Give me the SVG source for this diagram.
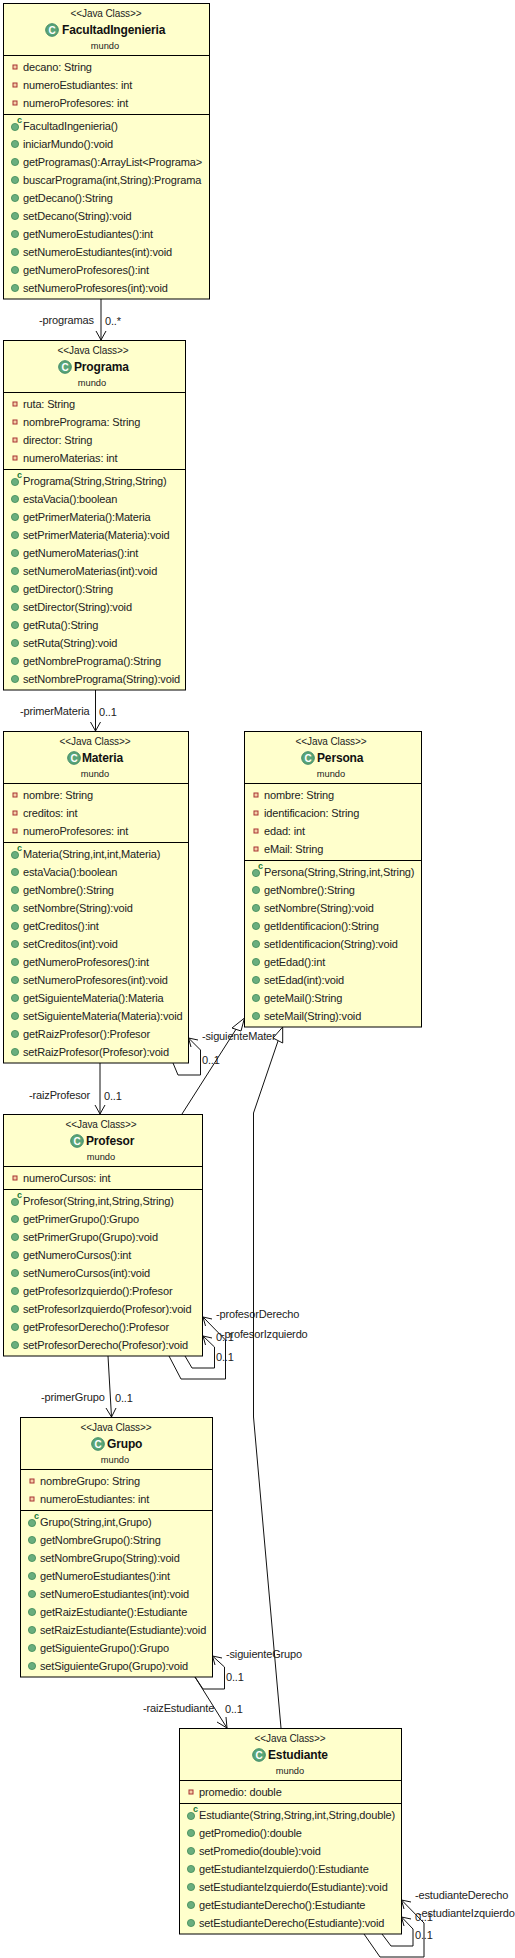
<svg xmlns="http://www.w3.org/2000/svg" xmlns:xlink="http://www.w3.org/1999/xlink" width="515" height="1958" viewBox="0 0 515 1958">
<style>
text{font-family:"Liberation Sans",Arial,sans-serif;font-size:11px;letter-spacing:-0.15px;fill:#222;dominant-baseline:central}
.st{font-size:10px;letter-spacing:-0.1px;text-anchor:middle}
.nm{font-size:12px;font-weight:bold;fill:#111}
.pk{font-size:9.300px;letter-spacing:0;text-anchor:middle}
.ic{font-size:10px;letter-spacing:0;font-weight:bold;fill:#fff;text-anchor:middle}
.cc{font-size:9px;letter-spacing:0;font-weight:bold;fill:#1a7a3a}
.box{fill:#ffffcc;stroke:#000;stroke-width:1}
.sep{stroke:#000;stroke-width:1}
.ln{fill:none;stroke:#111;stroke-width:1}
.ah{fill:none;stroke:#111;stroke-width:1}
.tri{fill:#fff;stroke:#111;stroke-width:1}
</style>
<defs>
<g id="pv"><rect x="-2" y="-2" width="4" height="4" fill="#f3d0a8" stroke="#a83232" stroke-width="1"/></g>
<g id="pb"><circle r="3.600" fill="#6aae7e" stroke="#3f8a58" stroke-width="0.800"/></g>
<g id="cl"><circle r="6.300" fill="#5aa578" stroke="#3f8a68" stroke-width="1"/></g>
</defs>
<g id="connectors">
<line class="ln" x1="101" y1="299" x2="101" y2="340"/><path class="ah" d="M96 331L101 340L106 331"/>
<line class="ln" x1="95.500" y1="690" x2="95.500" y2="731"/><path class="ah" d="M90.500 722L95.500 731L100.500 722"/>
<line class="ln" x1="100" y1="1063" x2="100" y2="1114"/><path class="ah" d="M95 1105L100 1114L105 1105"/>
<path class="ln" d="M173 1063L178 1075H200.500V1050L188.500 1038"/><path class="ah" d="M198 1040L188.500 1038L191 1047"/>
<line class="ln" x1="108" y1="1356" x2="111.500" y2="1417"/><path class="ah" d="M106 1408L111.500 1417L116 1408"/>
<path class="ln" d="M185 1356L192 1368H214.500V1347L203 1336"/><path class="ah" d="M212 1338L203 1336L205.500 1345"/>
<path class="ln" d="M169 1356L181 1379H225.500V1340L203 1317"/><path class="ah" d="M212 1319L203 1317L205.500 1326"/>
<path class="ln" d="M195 1677L203 1689H224.500V1667L212.500 1656"/><path class="ah" d="M222 1658L212.500 1656L215 1665"/>
<line class="ln" x1="195" y1="1677" x2="227" y2="1728"/><path class="ah" d="M217 1722L227 1728L226 1717"/>
<path class="ln" d="M382 1934L391 1946H413V1929L401.500 1917"/><path class="ah" d="M411 1919L401.500 1917L404 1926"/>
<path class="ln" d="M364 1934L380 1957H424V1923L401.500 1900"/><path class="ah" d="M411 1902L401.500 1900L404 1909"/>
<text x="39" y="320">-programas</text><text x="105" y="321">0..*</text>
<text x="20" y="711">-primerMateria</text><text x="99" y="712">0..1</text>
<text x="29" y="1095">-raizProfesor</text><text x="104" y="1096">0..1</text>
<text x="202" y="1036">-siguienteMater</text><text x="202" y="1060">0..1</text>
<text x="41" y="1397">-primerGrupo</text><text x="115" y="1398">0..1</text>
<text x="216" y="1314">-profesorDerecho</text><text x="216" y="1337">0..1</text>
<text x="221" y="1334">-profesorIzquierdo</text><text x="216" y="1357">0..1</text>
<text x="226" y="1654">-siguienteGrupo</text><text x="226" y="1677">0..1</text>
<text x="143" y="1708">-raizEstudiante</text><text x="225" y="1709">0..1</text>
<text x="415" y="1895">-estudianteDerecho</text><text x="415" y="1917">0..1</text>
<text x="418" y="1913">-estudianteIzquierdo</text><text x="415" y="1935">0..1</text>
<path class="ln" d="M182 1114L240 1023"/><path class="tri" d="M244.500 1018L232 1028L241 1031Z"/>
<path class="ln" d="M281 1728L253.500 1417V1113L278 1041"/><path class="tri" d="M282.700 1027L273 1038L282.700 1043Z"/>
</g>
<g id="FacultadIngenieria">
<rect class="box" x="3.500" y="3.500" width="206" height="295.500"/>
<line class="sep" x1="3.500" y1="55.500" x2="209.500" y2="55.500"/><line class="sep" x1="3.500" y1="114.500" x2="209.500" y2="114.500"/>
<text class="st" x="106" y="13">&lt;&lt;Java Class&gt;&gt;</text>
<use href="#cl" x="52" y="30"/><text class="ic" x="52" y="30">C</text><text class="nm" x="62" y="30">FacultadIngenieria</text>
<text class="pk" x="105" y="46">mundo</text>
<use href="#pv" x="15" y="67"/><text x="23" y="67">decano: String</text>
<use href="#pv" x="15" y="85"/><text x="23" y="85">numeroEstudiantes: int</text>
<use href="#pv" x="15" y="103"/><text x="23" y="103">numeroProfesores: int</text>
<use href="#pb" x="15" y="127"/><text class="cc" x="17" y="120">c</text><text x="23" y="126">FacultadIngenieria()</text>
<use href="#pb" x="15" y="144"/><text x="23" y="144">iniciarMundo():void</text>
<use href="#pb" x="15" y="162"/><text x="23" y="162">getProgramas():ArrayList&lt;Programa&gt;</text>
<use href="#pb" x="15" y="180"/><text x="23" y="180">buscarPrograma(int,String):Programa</text>
<use href="#pb" x="15" y="198"/><text x="23" y="198">getDecano():String</text>
<use href="#pb" x="15" y="216"/><text x="23" y="216">setDecano(String):void</text>
<use href="#pb" x="15" y="234"/><text x="23" y="234">getNumeroEstudiantes():int</text>
<use href="#pb" x="15" y="252"/><text x="23" y="252">setNumeroEstudiantes(int):void</text>
<use href="#pb" x="15" y="270"/><text x="23" y="270">getNumeroProfesores():int</text>
<use href="#pb" x="15" y="288"/><text x="23" y="288">setNumeroProfesores(int):void</text>
</g>
<g id="Programa">
<rect class="box" x="3.500" y="340.500" width="182" height="349.500"/>
<line class="sep" x1="3.500" y1="392.500" x2="185.500" y2="392.500"/><line class="sep" x1="3.500" y1="469.500" x2="185.500" y2="469.500"/>
<text class="st" x="93" y="350">&lt;&lt;Java Class&gt;&gt;</text>
<use href="#cl" x="65" y="367"/><text class="ic" x="65" y="367">C</text><text class="nm" x="74" y="367">Programa</text>
<text class="pk" x="92" y="383">mundo</text>
<use href="#pv" x="15" y="404"/><text x="23" y="404">ruta: String</text>
<use href="#pv" x="15" y="422"/><text x="23" y="422">nombrePrograma: String</text>
<use href="#pv" x="15" y="440"/><text x="23" y="440">director: String</text>
<use href="#pv" x="15" y="458"/><text x="23" y="458">numeroMaterias: int</text>
<use href="#pb" x="15" y="482"/><text class="cc" x="17" y="475">c</text><text x="23" y="481">Programa(String,String,String)</text>
<use href="#pb" x="15" y="499"/><text x="23" y="499">estaVacia():boolean</text>
<use href="#pb" x="15" y="517"/><text x="23" y="517">getPrimerMateria():Materia</text>
<use href="#pb" x="15" y="535"/><text x="23" y="535">setPrimerMateria(Materia):void</text>
<use href="#pb" x="15" y="553"/><text x="23" y="553">getNumeroMaterias():int</text>
<use href="#pb" x="15" y="571"/><text x="23" y="571">setNumeroMaterias(int):void</text>
<use href="#pb" x="15" y="589"/><text x="23" y="589">getDirector():String</text>
<use href="#pb" x="15" y="607"/><text x="23" y="607">setDirector(String):void</text>
<use href="#pb" x="15" y="625"/><text x="23" y="625">getRuta():String</text>
<use href="#pb" x="15" y="643"/><text x="23" y="643">setRuta(String):void</text>
<use href="#pb" x="15" y="661"/><text x="23" y="661">getNombrePrograma():String</text>
<use href="#pb" x="15" y="679"/><text x="23" y="679">setNombrePrograma(String):void</text>
</g>
<g id="Materia">
<rect class="box" x="3.500" y="731.500" width="185" height="331.500"/>
<line class="sep" x1="3.500" y1="783.500" x2="188.500" y2="783.500"/><line class="sep" x1="3.500" y1="842.500" x2="188.500" y2="842.500"/>
<text class="st" x="95" y="741">&lt;&lt;Java Class&gt;&gt;</text>
<use href="#cl" x="74" y="758"/><text class="ic" x="74" y="758">C</text><text class="nm" x="82" y="758">Materia</text>
<text class="pk" x="95" y="774">mundo</text>
<use href="#pv" x="15" y="795"/><text x="23" y="795">nombre: String</text>
<use href="#pv" x="15" y="813"/><text x="23" y="813">creditos: int</text>
<use href="#pv" x="15" y="831"/><text x="23" y="831">numeroProfesores: int</text>
<use href="#pb" x="15" y="855"/><text class="cc" x="17" y="848">c</text><text x="23" y="854">Materia(String,int,int,Materia)</text>
<use href="#pb" x="15" y="872"/><text x="23" y="872">estaVacia():boolean</text>
<use href="#pb" x="15" y="890"/><text x="23" y="890">getNombre():String</text>
<use href="#pb" x="15" y="908"/><text x="23" y="908">setNombre(String):void</text>
<use href="#pb" x="15" y="926"/><text x="23" y="926">getCreditos():int</text>
<use href="#pb" x="15" y="944"/><text x="23" y="944">setCreditos(int):void</text>
<use href="#pb" x="15" y="962"/><text x="23" y="962">getNumeroProfesores():int</text>
<use href="#pb" x="15" y="980"/><text x="23" y="980">setNumeroProfesores(int):void</text>
<use href="#pb" x="15" y="998"/><text x="23" y="998">getSiguienteMateria():Materia</text>
<use href="#pb" x="15" y="1016"/><text x="23" y="1016">setSiguienteMateria(Materia):void</text>
<use href="#pb" x="15" y="1034"/><text x="23" y="1034">getRaizProfesor():Profesor</text>
<use href="#pb" x="15" y="1052"/><text x="23" y="1052">setRaizProfesor(Profesor):void</text>
</g>
<g id="Persona">
<rect class="box" x="244.500" y="731.500" width="177" height="295.500"/>
<line class="sep" x1="244.500" y1="783.500" x2="421.500" y2="783.500"/><line class="sep" x1="244.500" y1="860.500" x2="421.500" y2="860.500"/>
<text class="st" x="331" y="741">&lt;&lt;Java Class&gt;&gt;</text>
<use href="#cl" x="308" y="758"/><text class="ic" x="308" y="758">C</text><text class="nm" x="317" y="758">Persona</text>
<text class="pk" x="331" y="774">mundo</text>
<use href="#pv" x="256" y="795"/><text x="264" y="795">nombre: String</text>
<use href="#pv" x="256" y="813"/><text x="264" y="813">identificacion: String</text>
<use href="#pv" x="256" y="831"/><text x="264" y="831">edad: int</text>
<use href="#pv" x="256" y="849"/><text x="264" y="849">eMail: String</text>
<use href="#pb" x="256" y="873"/><text class="cc" x="258" y="866">c</text><text x="264" y="872">Persona(String,String,int,String)</text>
<use href="#pb" x="256" y="890"/><text x="264" y="890">getNombre():String</text>
<use href="#pb" x="256" y="908"/><text x="264" y="908">setNombre(String):void</text>
<use href="#pb" x="256" y="926"/><text x="264" y="926">getIdentificacion():String</text>
<use href="#pb" x="256" y="944"/><text x="264" y="944">setIdentificacion(String):void</text>
<use href="#pb" x="256" y="962"/><text x="264" y="962">getEdad():int</text>
<use href="#pb" x="256" y="980"/><text x="264" y="980">setEdad(int):void</text>
<use href="#pb" x="256" y="998"/><text x="264" y="998">geteMail():String</text>
<use href="#pb" x="256" y="1016"/><text x="264" y="1016">seteMail(String):void</text>
</g>
<g id="Profesor">
<rect class="box" x="3.500" y="1114.500" width="199" height="241.500"/>
<line class="sep" x1="3.500" y1="1166.500" x2="202.500" y2="1166.500"/><line class="sep" x1="3.500" y1="1189.500" x2="202.500" y2="1189.500"/>
<text class="st" x="101" y="1124">&lt;&lt;Java Class&gt;&gt;</text>
<use href="#cl" x="77" y="1141"/><text class="ic" x="77" y="1141">C</text><text class="nm" x="86" y="1141">Profesor</text>
<text class="pk" x="101" y="1157">mundo</text>
<use href="#pv" x="15" y="1178"/><text x="23" y="1178">numeroCursos: int</text>
<use href="#pb" x="15" y="1202"/><text class="cc" x="17" y="1195">c</text><text x="23" y="1201">Profesor(String,int,String,String)</text>
<use href="#pb" x="15" y="1219"/><text x="23" y="1219">getPrimerGrupo():Grupo</text>
<use href="#pb" x="15" y="1237"/><text x="23" y="1237">setPrimerGrupo(Grupo):void</text>
<use href="#pb" x="15" y="1255"/><text x="23" y="1255">getNumeroCursos():int</text>
<use href="#pb" x="15" y="1273"/><text x="23" y="1273">setNumeroCursos(int):void</text>
<use href="#pb" x="15" y="1291"/><text x="23" y="1291">getProfesorIzquierdo():Profesor</text>
<use href="#pb" x="15" y="1309"/><text x="23" y="1309">setProfesorIzquierdo(Profesor):void</text>
<use href="#pb" x="15" y="1327"/><text x="23" y="1327">getProfesorDerecho():Profesor</text>
<use href="#pb" x="15" y="1345"/><text x="23" y="1345">setProfesorDerecho(Profesor):void</text>
</g>
<g id="Grupo">
<rect class="box" x="20.500" y="1417.500" width="192" height="259.500"/>
<line class="sep" x1="20.500" y1="1469.500" x2="212.500" y2="1469.500"/><line class="sep" x1="20.500" y1="1510.500" x2="212.500" y2="1510.500"/>
<text class="st" x="116" y="1427">&lt;&lt;Java Class&gt;&gt;</text>
<use href="#cl" x="98" y="1444"/><text class="ic" x="98" y="1444">C</text><text class="nm" x="107" y="1444">Grupo</text>
<text class="pk" x="115" y="1460">mundo</text>
<use href="#pv" x="32" y="1481"/><text x="40" y="1481">nombreGrupo: String</text>
<use href="#pv" x="32" y="1499"/><text x="40" y="1499">numeroEstudiantes: int</text>
<use href="#pb" x="32" y="1523"/><text class="cc" x="34" y="1516">c</text><text x="40" y="1522">Grupo(String,int,Grupo)</text>
<use href="#pb" x="32" y="1540"/><text x="40" y="1540">getNombreGrupo():String</text>
<use href="#pb" x="32" y="1558"/><text x="40" y="1558">setNombreGrupo(String):void</text>
<use href="#pb" x="32" y="1576"/><text x="40" y="1576">getNumeroEstudiantes():int</text>
<use href="#pb" x="32" y="1594"/><text x="40" y="1594">setNumeroEstudiantes(int):void</text>
<use href="#pb" x="32" y="1612"/><text x="40" y="1612">getRaizEstudiante():Estudiante</text>
<use href="#pb" x="32" y="1630"/><text x="40" y="1630">setRaizEstudiante(Estudiante):void</text>
<use href="#pb" x="32" y="1648"/><text x="40" y="1648">getSiguienteGrupo():Grupo</text>
<use href="#pb" x="32" y="1666"/><text x="40" y="1666">setSiguienteGrupo(Grupo):void</text>
</g>
<g id="Estudiante">
<rect class="box" x="179.500" y="1728.500" width="222" height="205.500"/>
<line class="sep" x1="179.500" y1="1780.500" x2="401.500" y2="1780.500"/><line class="sep" x1="179.500" y1="1803.500" x2="401.500" y2="1803.500"/>
<text class="st" x="290" y="1738">&lt;&lt;Java Class&gt;&gt;</text>
<use href="#cl" x="259" y="1755"/><text class="ic" x="259" y="1755">C</text><text class="nm" x="268" y="1755">Estudiante</text>
<text class="pk" x="290" y="1771">mundo</text>
<use href="#pv" x="191" y="1792"/><text x="199" y="1792">promedio: double</text>
<use href="#pb" x="191" y="1816"/><text class="cc" x="193" y="1809">c</text><text x="199" y="1815">Estudiante(String,String,int,String,double)</text>
<use href="#pb" x="191" y="1833"/><text x="199" y="1833">getPromedio():double</text>
<use href="#pb" x="191" y="1851"/><text x="199" y="1851">setPromedio(double):void</text>
<use href="#pb" x="191" y="1869"/><text x="199" y="1869">getEstudianteIzquierdo():Estudiante</text>
<use href="#pb" x="191" y="1887"/><text x="199" y="1887">setEstudianteIzquierdo(Estudiante):void</text>
<use href="#pb" x="191" y="1905"/><text x="199" y="1905">getEstudianteDerecho():Estudiante</text>
<use href="#pb" x="191" y="1923"/><text x="199" y="1923">setEstudianteDerecho(Estudiante):void</text>
</g>
</svg>
